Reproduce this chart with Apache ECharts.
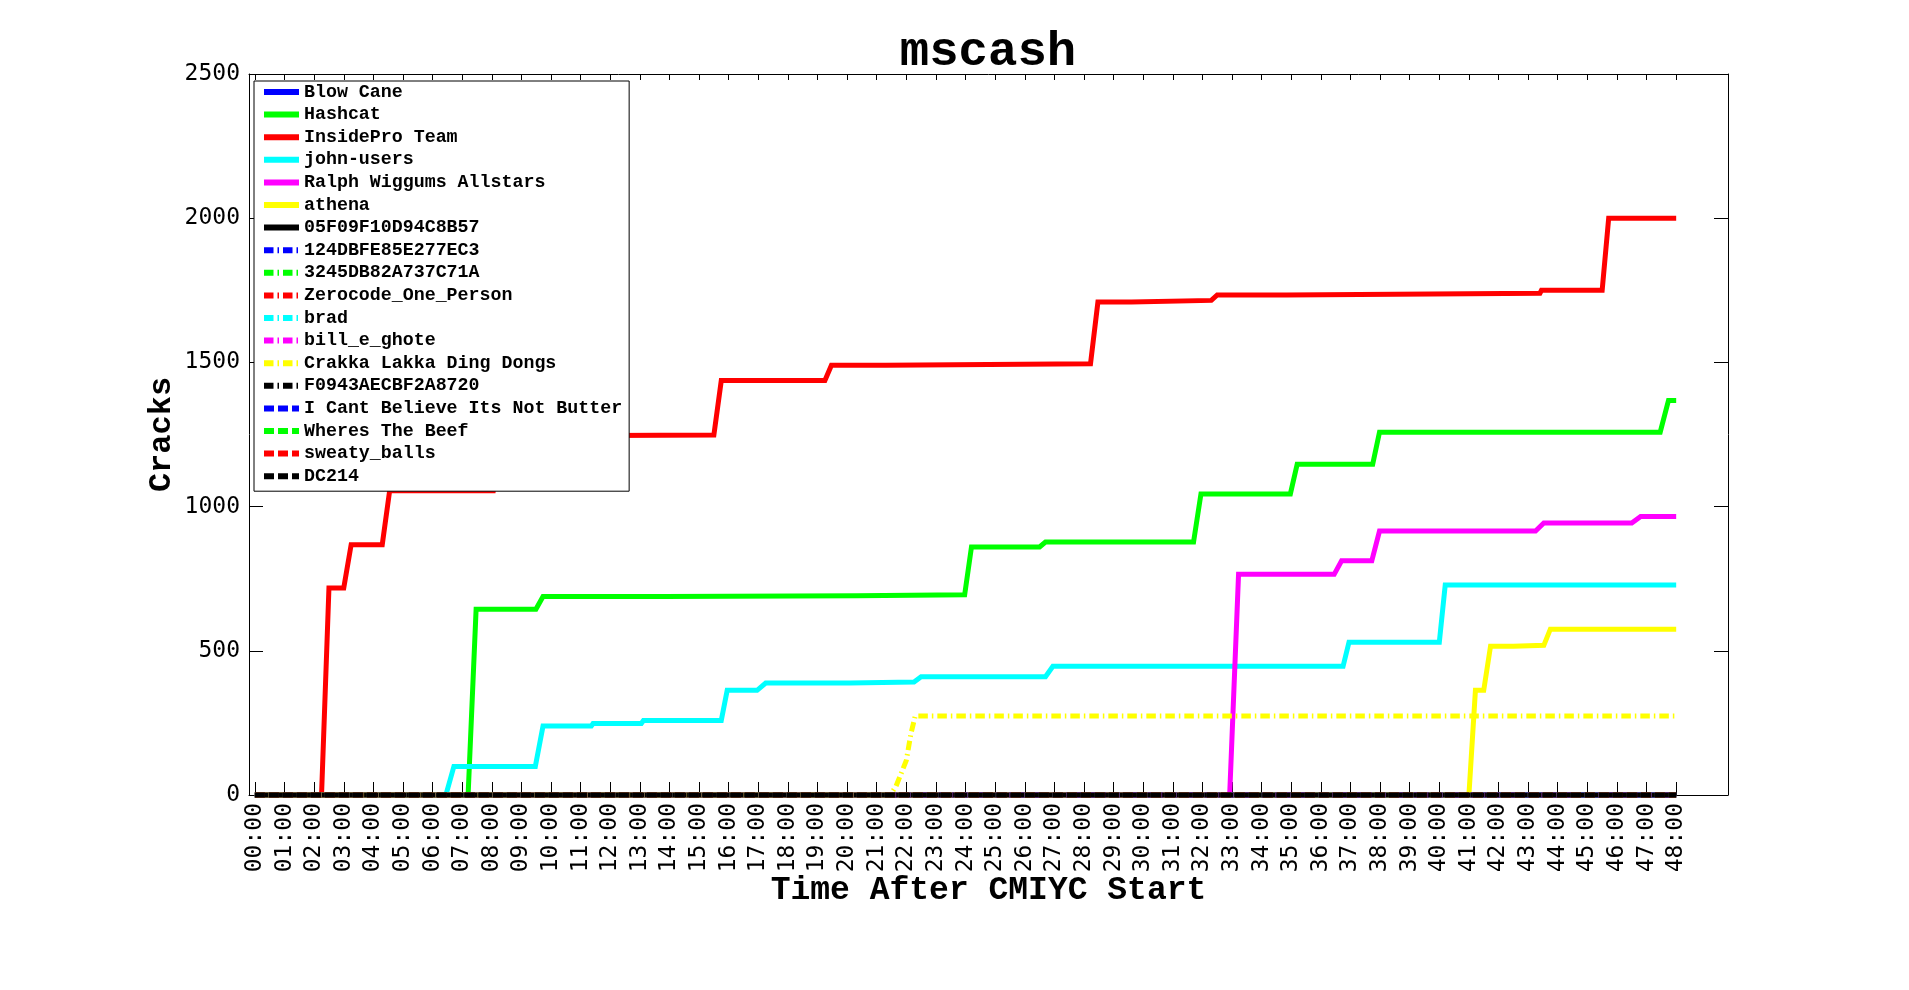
<!DOCTYPE html>
<html>
<head>
<meta charset="utf-8">
<script src="https://cdn.jsdelivr.net/npm/echarts@6/dist/echarts.min.js"></script>
<style>
html,body{margin:0;padding:0;background:#fff;}
#chart{width:1909px;height:990px;}
</style>
</head>
<body>
<div id="chart"></div>
<script>
// ---- data (hours after start, cracks) ----
const xTickLabels = ["00:00","01:00","02:00","03:00","04:00","05:00","06:00","07:00","08:00","09:00",
  "10:00","11:00","12:00","13:00","14:00","15:00","16:00","17:00","18:00","19:00",
  "20:00","21:00","22:00","23:00","24:00","25:00","26:00","27:00","28:00","29:00",
  "30:00","31:00","32:00","33:00","34:00","35:00","36:00","37:00","38:00","39:00",
  "40:00","41:00","42:00","43:00","44:00","45:00","46:00","47:00","48:00"];

const teamNames = ["Blow Cane","Hashcat","InsidePro Team","john-users","Ralph Wiggums Allstars","athena",
  "05F09F10D94C8B57","124DBFE85E277EC3","3245DB82A737C71A","Zerocode_One_Person","brad","bill_e_ghote",
  "Crakka Lakka Ding Dongs","F0943AECBF2A8720","I Cant Believe Its Not Butter","Wheres The Beef",
  "sweaty_balls","DC214"];

const blowCane = [[0,0],[48,0]];
const hashcat = [[0,0],[7.2,0],[7.47,644],[9.49,644],[9.73,688],[13.83,688],[13.88,691],[20.33,691],
  [20.38,694],[23.97,694],[24.2,860],[26.5,860],[26.7,877],[31.7,877],[31.95,1044],[34.97,1044],
  [35.2,1147],[37.75,1147],[37.98,1258],[47.46,1258],[47.74,1368],[48,1368]];
const insidePro = [[0,0],[2.25,0],[2.5,718],[3.0,718],[3.25,868],[4.3,868],[4.55,1055],[8.05,1055],
  [8.3,1245],[15.5,1248],[15.75,1437],[19.25,1437],[19.47,1490],[21.3,1490],[21.35,1495],[28.22,1495],
  [28.47,1709],[29.6,1709],[29.65,1715],[32.3,1715],[32.5,1734],[34.84,1734],[34.9,1740],[43.4,1740],
  [43.45,1750],[45.5,1750],[45.72,2000],[48,2000]];
const johnUsers = [[0,0],[6.45,0],[6.72,99],[9.47,99],[9.73,239],[11.36,239],[11.42,248],[13.05,248],
  [13.12,258],[15.75,258],[15.95,363],[16.96,363],[17.25,388],[20.1,388],[20.15,392],[22.26,392],
  [22.5,410],[26.7,410],[26.95,446],[36.75,446],[36.95,530],[40.0,530],[40.2,728],[48,728]];
const ralphWiggums = [[0,0],[32.92,0],[33.22,765],[36.45,765],[36.7,812],[37.72,812],[37.98,915],
  [43.25,915],[43.53,943],[46.5,943],[46.8,966],[48,966]];
const athena = [[0,0],[41.0,0],[41.22,363],[41.5,363],[41.73,516],[42.5,516],[42.55,519],[43.53,519],
  [43.75,575],[48,575]];
const team05F09 = [[0,0],[48,0]];
const team124D = [[0,0],[48,0]];
const team3245 = [[0,0],[48,0]];
const zerocode = [[0,0],[48,0]];
const brad = [[0,0],[48,0]];
const billEGhote = [[0,0],[48,0]];
const crakkaLakka = [[0,0],[21.45,0],[21.65,30],[22.0,120],[22.15,210],[22.3,274],[48,274]];
const teamF094 = [[0,0],[48,0]];
const iCantBelieve = [[0,0],[48,0]];
const wheresTheBeef = [[0,0],[48,0]];
const sweatyBalls = [[0,0],[48,0]];
const dc214 = [[0,0],[48,0]];

const teamData = [blowCane, hashcat, insidePro, johnUsers, ralphWiggums, athena, team05F09,
  team124D, team3245, zerocode, brad, billEGhote, crakkaLakka, teamF094,
  iCantBelieve, wheresTheBeef, sweatyBalls, dc214];

// ---- styles ----
const teamColors = ["#0000ff","#00ff00","#ff0000","#00ffff","#ff00ff","#ffff00","#000000",
  "#0000ff","#00ff00","#ff0000","#00ffff","#ff00ff","#ffff00","#000000",
  "#0000ff","#00ff00","#ff0000","#000000"];
const DASHDOT = [9.5,4,1.5,4];
const DASHED = [10,4];
const teamLineTypes = ["solid","solid","solid","solid","solid","solid","solid",
  DASHDOT,DASHDOT,DASHDOT,DASHDOT,DASHDOT,DASHDOT,DASHDOT,
  DASHED,DASHED,DASHED,DASHED];

const monoBold = "'Liberation Mono', 'Courier New', monospace";
const monoTick = "'DejaVu Sans Mono', monospace";

const X_MIN = -0.2, X_MAX = 49.75;
const xTickValues = xTickLabels.map((_, i) => i);

const series = teamNames.map((name, i) => ({
  type: 'line',
  name: name,
  data: teamData[i],
  xAxisIndex: 0,
  yAxisIndex: 0,
  symbol: 'none',
  showSymbol: false,
  clip: false,
  animation: false,
  silent: true,
  lineStyle: { color: teamColors[i], width: 5, type: teamLineTypes[i], cap: 'butt', join: 'miter' },
  itemStyle: { color: teamColors[i] },
  emphasis: { disabled: true }
}));

const chart = echarts.init(document.getElementById('chart'), null, { renderer: 'canvas' });
chart.setOption({
  backgroundColor: '#ffffff',
  animation: false,
  title: {
    text: 'mscash',
    left: 988,
    top: 28,
    padding: 0,
    textAlign: 'center',
    textStyle: { fontFamily: monoBold, fontWeight: 'bold', fontSize: 49, color: '#000' }
  },
  grid: { left: 249, right: 181, top: 74, bottom: 195, containLabel: false },
  legend: {
    orient: 'vertical',
    left: 254,
    top: 81,
    data: teamNames,
    itemWidth: 35,
    itemHeight: 18,
    itemGap: 4.6,
    padding: [2, 7, 6, 7],
    backgroundColor: '#ffffff',
    borderColor: '#000000',
    borderWidth: 1,
    borderRadius: 0,
    selectedMode: false,
    lineStyle: { width: 6 },
    itemStyle: { color: 'rgba(0,0,0,0)', borderColor: 'rgba(0,0,0,0)', borderWidth: 0, opacity: 0 },
    textStyle: { fontFamily: monoBold, fontWeight: 'bold', fontSize: 18.3, color: '#000', lineHeight: 18 },
    z: 10
  },
  xAxis: [{
    type: 'value',
    position: 'bottom',
    min: X_MIN,
    max: X_MAX,
    name: 'Time After CMIYC Start',
    nameLocation: 'middle',
    nameGap: 79,
    nameMoveOverlap: false,
    nameTextStyle: { fontFamily: monoBold, fontWeight: 'bold', fontSize: 33, color: '#000' },
    axisLine: { show: true, onZero: false, lineStyle: { color: '#000', width: 1 } },
    axisTick: { show: true, inside: true, length: 13, customValues: xTickValues, lineStyle: { color: '#000', width: 1 } },
    axisLabel: {
      show: true, rotate: 90, margin: 8, customValues: xTickValues,
      formatter: v => xTickLabels[Math.round(v)] || '',
      fontFamily: monoTick, fontSize: 23, color: '#000'
    },
    splitLine: { show: false }
  }, {
    type: 'value',
    position: 'top',
    min: X_MIN,
    max: X_MAX,
    axisLine: { show: true, onZero: false, lineStyle: { color: '#000', width: 1 } },
    axisTick: { show: true, inside: true, length: 6, customValues: xTickValues, lineStyle: { color: '#000', width: 1 } },
    axisLabel: { show: false },
    splitLine: { show: false }
  }],
  yAxis: [{
    type: 'value',
    position: 'left',
    min: 0,
    max: 2500,
    interval: 500,
    name: 'Cracks',
    nameLocation: 'middle',
    nameRotate: 90,
    nameGap: 71,
    nameMoveOverlap: false,
    nameTextStyle: { fontFamily: monoBold, fontWeight: 'bold', fontSize: 32, color: '#000' },
    axisLine: { show: true, onZero: false, lineStyle: { color: '#000', width: 1 } },
    axisTick: { show: true, inside: true, length: 14, lineStyle: { color: '#000', width: 1 } },
    axisLabel: { show: true, margin: 9, formatter: v => String(v), fontFamily: monoTick, fontSize: 23, color: '#000' },
    splitLine: { show: false }
  }, {
    type: 'value',
    position: 'right',
    min: 0,
    max: 2500,
    interval: 500,
    axisLine: { show: true, onZero: false, lineStyle: { color: '#000', width: 1 } },
    axisTick: { show: true, inside: true, length: 14, lineStyle: { color: '#000', width: 1 } },
    axisLabel: { show: false },
    splitLine: { show: false }
  }],
  series: series
});
</script>
</body>
</html>
